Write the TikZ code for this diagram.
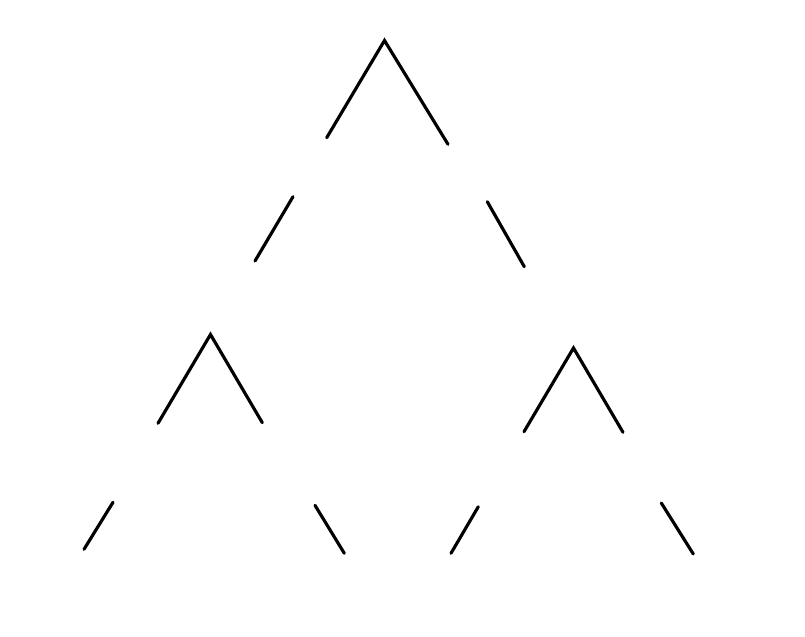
\documentclass[tikz,border=0pt]{standalone}
\begin{document}
\begin{tikzpicture}[x=0.02cm,y=-0.02cm,edge/.style={line width=1.8pt,line cap=round}]
\useasboundingbox (0,0) rectangle (805,636);
% apexes
\coordinate (top) at (384.5,40.5);
\coordinate (lefttop) at (210.5,334.5);
\coordinate (righttop) at (573.5,348);
% ends of the upper pieces
\coordinate (topL) at (326.7,137.7);
\coordinate (topR) at (448,144.3);
\coordinate (lefttopL) at (158,423.3);
\coordinate (lefttopR) at (262.3,422.7);
\coordinate (righttopL) at (524,431.7);
\coordinate (righttopR) at (623,432.3);
% lower pieces
\coordinate (midLa) at (293,196.7); \coordinate (midLb) at (255,261);
\coordinate (midRa) at (487.3,201.7); \coordinate (midRb) at (524.3,266.7);
\coordinate (leafAa) at (113,502.3); \coordinate (leafAb) at (84,549.3);
\coordinate (leafBa) at (315,505.3); \coordinate (leafBb) at (344.3,553.3);
\coordinate (leafCa) at (478.3,506.7); \coordinate (leafCb) at (451,553.3);
\coordinate (leafDa) at (661.3,503); \coordinate (leafDb) at (693.3,554);
\draw[edge] (topL) -- (top) -- (topR);
\draw[edge] (lefttopL) -- (lefttop) -- (lefttopR);
\draw[edge] (righttopL) -- (righttop) -- (righttopR);
\foreach \p in {midL,midR,leafA,leafB,leafC,leafD}
  \draw[edge] (\p a) -- (\p b);
\end{tikzpicture}
\end{document}
